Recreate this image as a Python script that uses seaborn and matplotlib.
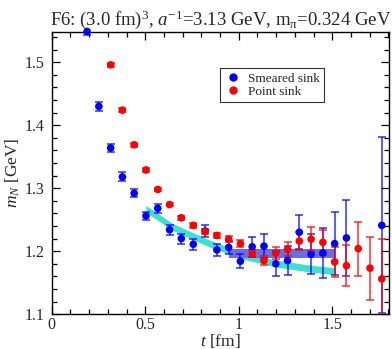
import numpy as np
import pandas as pd
import matplotlib
matplotlib.use("Agg")
import matplotlib.pyplot as plt
from matplotlib.lines import Line2D
import seaborn as sns

# time slices in fm (a^-1 = 3.13 GeV)
t_smeared = [0.189, 0.252, 0.315, 0.378, 0.441, 0.504, 0.567, 0.630, 0.693, 0.757,
             0.820, 0.883, 0.946, 1.009, 1.072, 1.135, 1.198, 1.261, 1.324, 1.387,
             1.450, 1.513, 1.576, 1.765]
m_smeared = [1.549, 1.430, 1.364, 1.318, 1.292, 1.256, 1.268, 1.234, 1.220, 1.211,
             1.232, 1.202, 1.206, 1.184, 1.207, 1.208, 1.180, 1.185, 1.230, 1.195,
             1.197, 1.212, 1.221, 1.241]
e_smeared = [0.005, 0.007, 0.007, 0.007, 0.006, 0.007, 0.007, 0.008, 0.008, 0.009,
             0.009, 0.009, 0.010, 0.011, 0.016, 0.019, 0.020, 0.023, 0.027, 0.032,
             0.039, 0.050, 0.061, 0.140]

t_point = [0.315, 0.378, 0.441, 0.504, 0.567, 0.630, 0.693, 0.757, 0.820, 0.883,
           0.946, 1.009, 1.072, 1.135, 1.198, 1.261, 1.324, 1.387, 1.450, 1.513,
           1.576, 1.639, 1.702, 1.765]
m_point = [1.496, 1.424, 1.369, 1.329, 1.298, 1.274, 1.253, 1.241, 1.231, 1.225,
           1.219, 1.212, 1.196, 1.185, 1.197, 1.203, 1.216, 1.219, 1.214, 1.183,
           1.177, 1.204, 1.173, 1.156]
e_point = [0.003, 0.003, 0.003, 0.003, 0.003, 0.003, 0.003, 0.004, 0.004, 0.004,
           0.005, 0.006, 0.006, 0.007, 0.009, 0.011, 0.014, 0.019, 0.020, 0.024,
           0.032, 0.043, 0.050, 0.063]

# fit bands
t_fit2 = [0.504, 0.650, 0.829, 1.007, 1.185, 1.364, 1.510]
m_fit2 = [1.267, 1.238, 1.214, 1.194, 1.181, 1.173, 1.168]
fit2_err = 0.0055
t_plateau = [0.946, 1.513]
m_plateau = 1.1965
plateau_err = 0.0067

sns.set_theme(style="ticks")
plt.rcParams["font.family"] = ["Liberation Serif", "DejaVu Serif"]
plt.rcParams["mathtext.fontset"] = "custom"
plt.rcParams["mathtext.rm"] = "Liberation Serif"
plt.rcParams["mathtext.it"] = "Liberation Serif:italic"

df = pd.concat([
    pd.DataFrame({"t": t_smeared, "m": m_smeared, "err": e_smeared, "src": "Smeared sink"}),
    pd.DataFrame({"t": t_point, "m": m_point, "err": e_point, "src": "Point sink"}),
], ignore_index=True)
colors = {"Smeared sink": "blue", "Point sink": "red"}

fig = plt.figure(figsize=(3.92, 3.49), dpi=100)
ax = fig.add_axes([0.132, 0.1, 0.861, 0.808])

# bands
f2 = np.array(m_fit2)
ax.fill_between(t_fit2, f2 - fit2_err, f2 + fit2_err, color="#40e0d0", lw=0, zorder=1)
ax.fill_between(t_plateau, m_plateau - plateau_err, m_plateau + plateau_err,
                color="#6d6de0", lw=0, zorder=2)

# error bars then points
for src, sub in df.groupby("src", sort=False):
    ax.errorbar(sub["t"], sub["m"], yerr=sub["err"], fmt="none",
                ecolor=colors[src], alpha=0.75, elinewidth=1.2, capsize=3.2,
                capthick=1.2, zorder=3)
sns.scatterplot(data=df, x="t", y="m", hue="src", palette=colors, s=30,
                edgecolor="none", legend=False, ax=ax, zorder=4, clip_on=False)

ax.set_xlim(0, 1.805)
ax.set_ylim(1.1, 1.548)
ax.set_xticks([0, 0.5, 1, 1.5])
ax.set_xticklabels(["0", "0.5", "1", "1.5"])
ax.set_yticks([1.1, 1.2, 1.3, 1.4, 1.5])
ax.set_xticks(np.arange(0, 1.81, 0.1), minor=True)
ax.set_yticks(np.arange(1.1, 1.55, 0.02), minor=True)
ax.tick_params(which="both", direction="in", top=True, right=True,
               labelsize=11.5, color="black", width=0.9)
ax.tick_params(which="major", length=6)
ax.tick_params(axis="y", which="major", pad=5)
ax.tick_params(axis="x", which="major", pad=2)
ax.tick_params(which="minor", length=3.5)
for s in ax.spines.values():
    s.set_linewidth(1.0)
    s.set_color("black")

ax.set_xlabel("$t$ [fm]", fontsize=12.5, labelpad=-0.5)
ax.set_ylabel("$m_N$ [GeV]", fontsize=12.5, labelpad=2)
ax.set_title("F6: (3.0 fm)$^3$, $a^{\\mathregular{-1}}$=3.13 GeV, m$_{\\mathregular{\u03c0}}$=0.324 GeV",
             fontsize=13.5, pad=5)

handles = [Line2D([], [], ls="none", marker="o", ms=5, color=colors[k]) for k in colors]
leg = ax.legend(handles, list(colors), loc="upper left", bbox_to_anchor=(0.4985, 0.871),
                borderaxespad=0, fontsize=9.5, frameon=True, fancybox=False,
                handlelength=1.3, handletextpad=0.5, borderpad=0.3, labelspacing=0.05)
leg.get_frame().set_edgecolor("black")
leg.get_frame().set_linewidth(0.8)

fig.savefig("out.png", dpi=100)
